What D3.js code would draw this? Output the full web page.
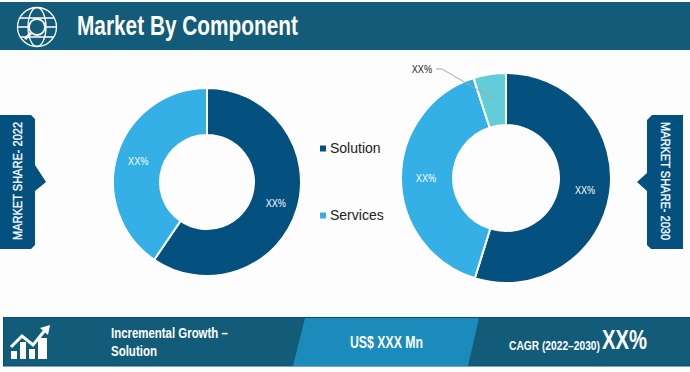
<!DOCTYPE html>
<html lang="en">
<head>
<meta charset="UTF-8">
<title>Market By Component</title>
<script src="https://d3js.org/d3.v7.min.js"></script>
<style>
    body, html { margin: 0; padding: 0; background: #fdfdfd; overflow: hidden; }
    text { font-family: "Liberation Sans", Arial, sans-serif; }
    .narrow { font-weight: bold; fill: #fff; }
</style>
</head>
<body>
<svg id="chart" width="690" height="372"></svg>
<script>
    const categories = ["Solution", "Services", "Other"];
    const share2022 = [59.5, 40.5];
    const share2030 = [54.8, 40.2, 5];
    const labels2022 = ["XX%", "XX%"];
    const labels2030 = ["XX%", "XX%", "XX%"];
    const legendItems = ["Solution", "Services"];

    const colors = d3.scaleOrdinal().domain(categories).range(["#04507f", "#35b0e6", "#62cdd9"]);
    const dark = "#125c7a", side = "#04507f", mid = "#1a8bbb";

    const svg = d3.select("#chart");
    svg.append("rect").attr("width", 690).attr("height", 372).attr("fill", "#fdfdfd");

    // no narrow font installed, so scale the text to the reference widths
    function squeezed(x, y, size, width, str) {
        const t = svg.append("text").attr("class", "narrow").attr("font-size", size).text(str);
        const k = width / t.node().getComputedTextLength();
        return t.attr("transform", `translate(${x},${y}) scale(${k},1)`);
    }

    // Header band
    svg.append("rect").attr("x", 0).attr("y", 2).attr("width", 690).attr("height", 48).attr("fill", dark);
    squeezed(77, 35, 27, 221, "Market By Component");

    // Globe + magnifier icon
    const globe = svg.append("g").attr("transform", "translate(37,27)")
        .attr("fill", "none").attr("stroke", "#fff").attr("stroke-width", 1.3);
    globe.append("circle").attr("r", 19.5);
    globe.append("ellipse").attr("rx", 9).attr("ry", 19.5);
    globe.append("path").attr("d", "M-17,-9H17M-19.5,0H-9M9,0H19.5M-17,10H17");
    globe.append("circle").attr("r", 8).attr("fill", dark).attr("stroke-width", 1.8);
    globe.append("path").attr("d", "M-6,6L-12,12").attr("stroke-width", 3);

    // Donuts
    const pie = d3.pie().sort(null).value(d => d);

    function donut(values, names, cx, cy, r, r0, labelR) {
        const g = svg.append("g").attr("transform", `translate(${cx},${cy})`);
        const arc = d3.arc().innerRadius(r0).outerRadius(r);
        const arcs = pie(values);
        g.selectAll("path").data(arcs).join("path")
            .attr("d", arc)
            .attr("fill", (d, i) => colors(categories[i]))
            .attr("stroke", "#fff")
            .attr("stroke-width", 2);
        const labelArc = d3.arc().innerRadius(labelR).outerRadius(labelR);
        g.selectAll("text").data(arcs.slice(0, 2)).join("text")
            .attr("transform", d => `translate(${labelArc.centroid(d)}) scale(0.87,1)`)
            .attr("text-anchor", "middle").attr("dy", "0.35em")
            .attr("font-size", 10.5)
            .attr("fill", "#fff")
            .text((d, i) => names[i]);
        return { g, arcs };
    }

    donut(share2022, labels2022, 207, 182, 94, 47, 72);
    const right = donut(share2030, labels2030, 506, 178, 105, 53, 80);

    // Callout for the small slice
    const tip = d3.arc().innerRadius(80).outerRadius(80).centroid(right.arcs[2]);
    right.g.append("path")
        .attr("d", `M${tip[0]},${tip[1]}L-64,-109H-70`)
        .attr("fill", "none").attr("stroke", "#a5a5a5").attr("stroke-width", 1);
    right.g.append("text").attr("transform", "translate(-74,-109) scale(0.87,1)").attr("dy", "0.35em")
        .attr("text-anchor", "end").attr("font-size", 10.5)
        .attr("fill", "#222").text(labels2030[2]);

    // Legend
    const legend = svg.append("g").selectAll("g").data(legendItems).join("g")
        .attr("transform", (d, i) => `translate(320,${[148, 215][i]})`);
    legend.append("rect").attr("x", 0).attr("y", -2.5).attr("width", 6).attr("height", 6)
        .attr("fill", d => colors(d));
    legend.append("text").attr("x", 10).attr("dy", "0.36em").attr("font-size", 14)
        .attr("fill", "#222").text(d => d);

    // Side tags
    svg.append("path").attr("d", "M0,115H31L35,119V165L46,182L35,191V245L31,249H0Z").attr("fill", side);
    svg.append("text").attr("transform", "translate(22,181) rotate(-90) scale(0.92,1)").attr("text-anchor", "middle")
        .attr("font-size", 12)
        .attr("fill", "#fff").attr("stroke", "#fff").attr("stroke-width", 0.3).text("MARKET SHARE- 2022");
    svg.append("path").attr("d", "M683,115H652L647,120V173L637,182L647,191V245L651,249H683Z").attr("fill", side);
    svg.append("text").attr("transform", "translate(661,181) rotate(90) scale(0.92,1)").attr("text-anchor", "middle")
        .attr("font-size", 12)
        .attr("fill", "#fff").attr("stroke", "#fff").attr("stroke-width", 0.3).text("MARKET SHARE- 2030");

    // Footer band
    svg.append("rect").attr("x", 3.5).attr("y", 317.5).attr("width", 687).attr("height", 48.5)
        .attr("fill", dark).attr("stroke", side);
    svg.append("path").attr("d", "M305,318H479L468,366H293Z").attr("fill", mid);
    squeezed(111, 338, 14, 117, "Incremental Growth \u2013");
    squeezed(111, 356, 14, 46, "Solution");
    squeezed(350, 348, 16, 73, "US$ XXX Mn");
    squeezed(509, 350, 13, 91, "CAGR (2022\u20132030)");
    squeezed(602, 349, 27, 45, "XX%");

    // Growth icon
    const growth = svg.append("g").attr("fill", "#fff");
    [[11, 351], [20, 342], [29, 349], [38, 338]].forEach(b => {
        growth.append("rect").attr("x", b[0]).attr("y", b[1]).attr("width", b[0] === 38 ? 9 : 6).attr("height", 359 - b[1]);
    });
    svg.append("path").attr("d", "M11,347L22,336L33,345L46,329").attr("fill", "none").attr("stroke", "#fff").attr("stroke-width", 3);
    svg.append("path").attr("d", "M40,328L50,325L48,335Z").attr("fill", "#fff");
</script>
</body>
</html>
